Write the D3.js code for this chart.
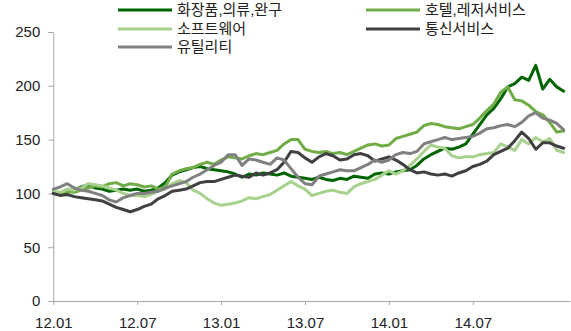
<!DOCTYPE html>
<html>
<head>
<meta charset="utf-8">
<script src="https://cdn.jsdelivr.net/npm/d3@7"></script>
<style>
  html, body { margin: 0; padding: 0; background: #fff; }
  svg { display: block; }
  .axis text { font-family: "Liberation Sans", Arial, sans-serif; font-size: 15px; fill: #222; }
  .axis path, .axis line { stroke: #a6a6a6; stroke-width: 1; }
  .legend text { font-family: "Liberation Sans", "Noto Sans CJK KR", sans-serif; font-size: 15px; fill: #222; }
</style>
</head>
<body>
<svg id="chart" width="571" height="331"></svg>
<script>
// Half-monthly index values (2012.01 = 100)
const seriesNames = ["화장품,의류,완구", "호텔,레저서비스", "소프트웨어", "통신서비스", "유틸리티"];
const seriesColors = ["#006400", "#70AD47", "#A9D18E", "#404040", "#808080"];

const cosmetics = [100,99,101,103,106,108,105,104,102,103,104,103,104,102,103,105,110,117,120,122,
  124,125,123,122,121,120,118,115,118,117,119,118,117,119,116,115,114,113,115,113,
  112,114,113,116,115,114,118,119,118,120,121,122,126,132,136,139,142,141,143,146,
  155,164,173,179,188,199,202,208,205,219,197,206,199,195];
const hotelLeisure = [101,100,102,101,103,105,107,106,109,110,107,109,108,106,107,104,106,118,121,123,
  124,127,129,127,131,134,133,132,135,137,136,138,140,146,150,150,141,139,138,139,
  137,138,136,139,142,145,146,144,145,151,153,155,157,163,165,164,162,161,160,162,
  164,170,177,183,194,199,187,186,182,176,173,166,157,158];
const software = [102,101,104,103,105,109,108,107,105,103,100,98,98,97,99,102,104,109,112,110,
  103,100,95,91,89,90,91,93,96,95,97,99,103,107,111,107,104,98,100,102,
  103,101,100,106,109,111,113,117,121,118,121,126,132,139,145,143,142,135,133,134,
  134,136,137,138,146,143,140,150,146,152,148,151,140,138];
const telecom = [100,98,99,97,96,95,94,93,90,87,85,83,85,88,90,95,98,102,103,104,
  107,110,111,111,113,115,117,116,115,119,117,119,122,129,139,138,133,129,134,137,
  135,131,132,136,137,135,130,132,134,131,127,122,119,120,118,117,118,116,119,121,
  125,127,130,136,139,142,149,157,151,141,147,147,144,142];
const utilities = [104,106,109,105,103,102,100,98,94,92,96,98,100,100,101,102,105,107,109,111,
  115,118,122,126,129,136,136,126,132,131,129,127,133,131,123,115,109,108,116,118,
  120,122,121,121,124,127,131,129,131,136,138,137,139,146,148,150,152,150,151,152,
  153,156,160,161,163,164,162,166,172,175,170,168,165,159];

const tickLabels = ["12.01", "12.07", "13.01", "13.07", "14.01", "14.07"];
const tickIndex = [0, 12, 24, 36, 48, 60];
const yTicks = [0, 50, 100, 150, 200, 250];

const allSeries = [cosmetics, hotelLeisure, software, telecom, utilities];

const svg = d3.select("#chart");

const x = d3.scaleLinear().domain([0, 73.9]).range([53.3, 570]);
const y = d3.scaleLinear().domain([0, 250]).range([301, 32]);

// Axes
const xAxis = d3.axisBottom(x)
  .tickValues(tickIndex)
  .tickFormat((d, i) => tickLabels[i])
  .tickSize(4).tickSizeOuter(0).tickPadding(12);
svg.append("g").attr("class", "axis")
  .attr("transform", "translate(0,301)")
  .call(xAxis);

const yAxis = d3.axisLeft(y)
  .tickValues(yTicks)
  .tickSize(5).tickSizeOuter(0).tickPadding(8);
svg.append("g").attr("class", "axis")
  .attr("transform", "translate(53.3,0)")
  .call(yAxis);

// Lines
const line = d3.line()
  .x((d, i) => x(i))
  .y(d => y(d));

svg.append("g").selectAll("path")
  .data(allSeries)
  .join("path")
  .attr("d", d => line(d))
  .attr("fill", "none")
  .attr("stroke", (d, i) => seriesColors[i])
  .attr("stroke-width", 3)
  .attr("stroke-linejoin", "round")
  .attr("stroke-linecap", "round");

// Legend: two columns, filled row by row
const legendCols = [118, 366];
const legendRows = [10, 29, 47];
const legend = svg.append("g").attr("class", "legend");
seriesNames.forEach((name, i) => {
  const cx = legendCols[i % 2];
  const cy = legendRows[Math.floor(i / 2)];
  legend.append("line")
    .attr("x1", cx).attr("x2", cx + 54)
    .attr("y1", cy).attr("y2", cy)
    .attr("stroke", seriesColors[i])
    .attr("stroke-width", 3);
  legend.append("text")
    .attr("x", cx + 59)
    .attr("y", cy)
    .attr("dy", "0.35em")
    .text(name);
});
</script>
</body>
</html>
